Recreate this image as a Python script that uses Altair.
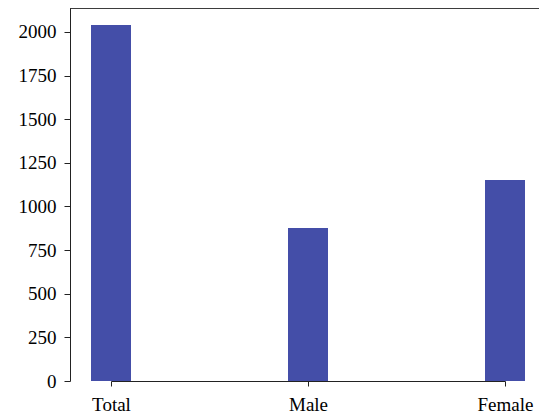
import altair as alt
import pandas as pd

categories = ["Total", "Male", "Female"]
values = [2040, 877, 1152]
y_ticks = [0, 250, 500, 750, 1000, 1250, 1500, 1750, 2000]

df = pd.DataFrame({"group": categories, "count": values})

W, H = 469, 373
FONT = "Liberation Serif"

bars = alt.Chart(df).mark_bar(size=40, color="#444ea8").encode(
    x=alt.X("group:N", sort=categories,
            scale=alt.Scale(type="point", range=[41, 435], padding=0),
            axis=alt.Axis(title=None, labelAngle=0, labelFontSize=19, labelFont=FONT,
                          labelColor="#000", tickSize=5, tickColor="#222",
                          domainColor="#222", labelPadding=9)),
    y=alt.Y("count:Q", scale=alt.Scale(domain=[0, 2137], nice=False, zero=True),
            axis=alt.Axis(title=None, values=y_ticks, format="d", grid=False,
                          labelFontSize=19, labelFont=FONT, labelColor="#000",
                          tickSize=6, tickColor="#222", domainColor="#222",
                          labelPadding=8)),
)

top = alt.Chart(df).mark_rule(color="#222", strokeWidth=1).encode(
    x=alt.value(0), x2=alt.value(W), y=alt.value(0)
)

chart = alt.layer(bars, top).properties(
    width=W, height=H,
    autosize=alt.AutoSizeParams(type="none"),
    padding={"left": 62, "top": 0, "right": 0, "bottom": 40},
).configure_view(stroke=None)

chart.save("out.html", embed_options={"renderer": "svg", "actions": False})
